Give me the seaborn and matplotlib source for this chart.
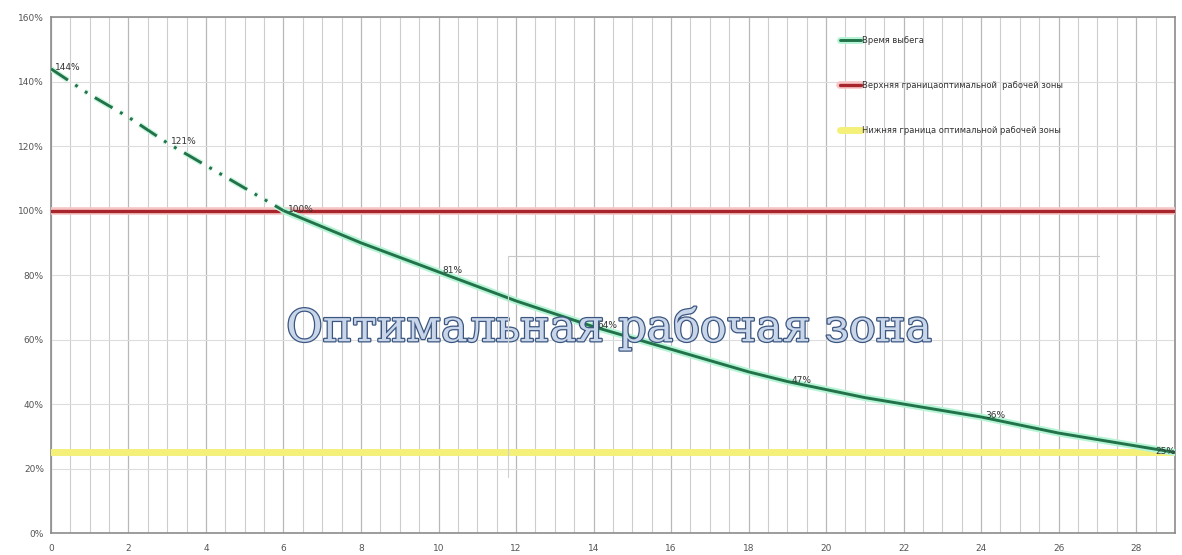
import matplotlib
matplotlib.use("Agg")
import matplotlib.pyplot as plt
import matplotlib.patheffects as pe
from matplotlib.ticker import MultipleLocator, FuncFormatter
import seaborn as sns
import pandas as pd

# Run-down time curve (% of nominal) against elapsed time
time_pts = list(range(0, 30))
rundown_pct = [144, 136, 129, 121, 114, 107, 100, 95, 90, 85.5, 81, 76.5, 72, 68, 64,
               60.5, 57, 53.5, 50, 47, 44.5, 42, 40, 38, 36, 33.5, 31, 29, 27, 25]
label_times = [0, 3, 6, 10, 14, 19, 24, 29]

upper_bound = 100
lower_bound = 25

series_names = ["Время выбега",
                "Верхняя границаоптимальной  рабочей зоны",
                "Нижняя граница оптимальной рабочей зоны"]
zone_title = "Оптимальная рабочая зона"

x_ticks = list(range(0, 30, 2))
y_ticks = list(range(0, 161, 20))

sns.set_theme(style="white")
plt.rcParams["font.family"] = ["DejaVu Sans"]

fig = plt.figure(figsize=(11.82, 5.55), dpi=100)
ax = fig.add_axes([0.0431, 0.0396, 0.9509, 0.9294])

df = pd.DataFrame({"t": time_pts, "v": rundown_pct})
dashed_part = df[df["t"] <= 6]
solid_part = df[df["t"] >= 6]

green = "#22734a"
glow = [pe.Stroke(linewidth=5, foreground="#b6f4d6"), pe.Normal()]

sns.lineplot(data=solid_part, x="t", y="v", ax=ax, color=green, linewidth=2.1,
             label=series_names[0], zorder=5)
ax.lines[-1].set_path_effects(glow)
sns.lineplot(data=dashed_part, x="t", y="v", ax=ax, color=green, linewidth=2.1,
             zorder=5)
ax.lines[-1].set_dashes([7, 3, 1, 3, 1, 3])
ax.lines[-1].set_path_effects([pe.Stroke(linewidth=4, foreground="#c8f6de"), pe.Normal()])

ax.axhline(upper_bound, color="#a8252b", linewidth=2.4, zorder=4,
           path_effects=[pe.Stroke(linewidth=5.5, foreground="#f6c6c6"), pe.Normal()],
           label=series_names[1])
ax.axhline(lower_bound, color="#f4f07a", linewidth=5, zorder=3,
           label=series_names[2])

# value labels on selected points
for t in label_times:
    v = rundown_pct[time_pts.index(t)]
    dx = -14 if t == time_pts[-1] else 3
    ax.annotate(f"{v:g}%", (t, v), xytext=(dx, 1), textcoords="offset points",
                ha="left", va="center", fontsize=6.5, color="#333333", zorder=6,
                annotation_clip=False)

ax.set_xlim(0, 29)
ax.set_ylim(0, 160)
ax.set_xticks(x_ticks)
ax.set_yticks(y_ticks)
ax.xaxis.set_minor_locator(MultipleLocator(0.5))
ax.yaxis.set_major_formatter(FuncFormatter(lambda v, _: f"{v:.0f}%"))
ax.grid(which="major", axis="x", color="#b8b8b8", linewidth=0.9)
ax.grid(which="minor", axis="x", color="#cdcdcd", linewidth=0.8)
ax.grid(which="major", axis="y", color="#dddddd", linewidth=0.8)
ax.set_axisbelow(True)
ax.tick_params(axis="both", labelsize=6.5, labelcolor="#555555", length=0, pad=5)
ax.tick_params(axis="x", which="major", length=3, color="#888888", direction="out")
ax.set_xlabel("")
ax.set_ylabel("")
for s in ax.spines.values():
    s.set_color("#8c8c8c")
    s.set_linewidth(1.2)
    s.set_visible(True)

leg = ax.legend(loc="upper left", bbox_to_anchor=(0.695, 0.979), frameon=False,
                fontsize=6, labelspacing=4.35, handlelength=2.6, handletextpad=0.1)
for txt in leg.get_texts():
    txt.set_color("#333333")

# faint outline of the zone caption box
fig.add_artist(plt.Line2D([0.43, 0.93], [0.538, 0.538], color="#c8c8c8", linewidth=0.8))
fig.add_artist(plt.Line2D([0.43, 0.43], [0.538, 0.14], color="#d0d0d0", linewidth=0.8))

ax.text(0.497, 0.397, zone_title, transform=ax.transAxes, ha="center", va="center",
        fontsize=32, family="DejaVu Serif", color="#c9d6ea", zorder=10,
        path_effects=[pe.Stroke(linewidth=1.8, foreground="#3b5680"), pe.Normal()])

fig.savefig("out.png", dpi=100, facecolor="white")
